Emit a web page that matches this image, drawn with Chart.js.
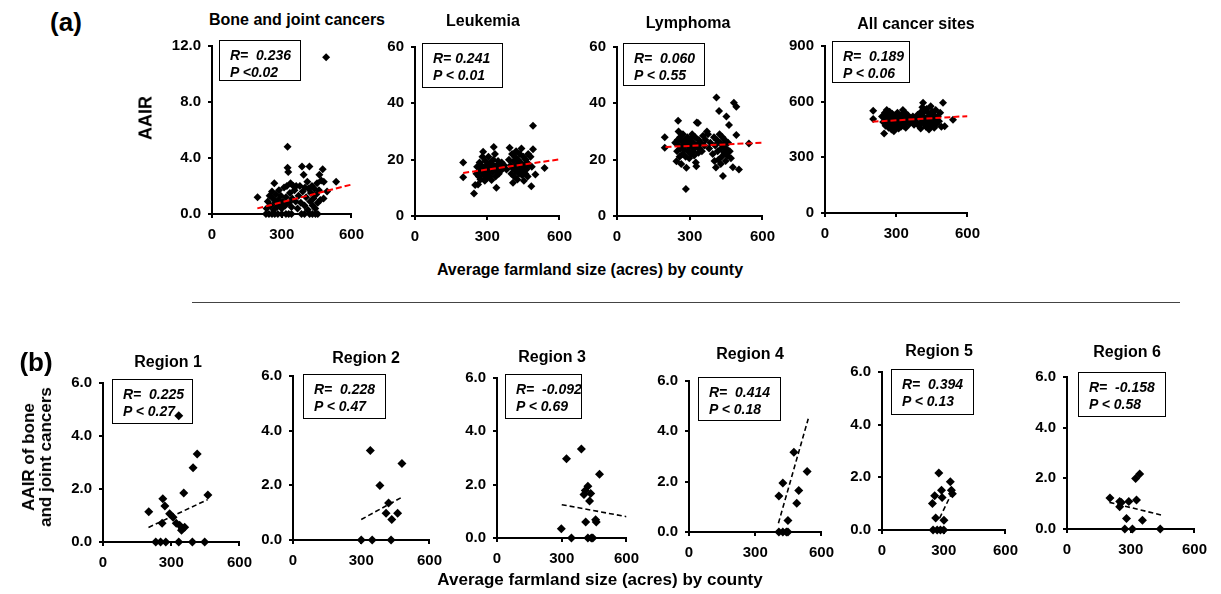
<!DOCTYPE html>
<html>
<head>
<meta charset="utf-8">
<script src="https://cdn.jsdelivr.net/npm/chart.js@4.4.1/dist/chart.umd.min.js"></script>
<style>
  body { margin: 0; background: #fff; }
  #fig { position: relative; width: 1221px; height: 594px; overflow: hidden;
         font-family: 'Liberation Sans', Arial, sans-serif; font-weight: bold; color: #000; }
  #fig canvas { position: absolute; }
  .lbl { position: absolute; transform: translate(-50%, -50%); white-space: nowrap; }
  .rot { transform: translate(-50%, -50%) rotate(-90deg); text-align: center; }
  .stat { position: absolute; border: 1px solid #000; box-sizing: border-box; font-style: italic;
          font-size: 14px; line-height: 17px; padding: 6px 0 0 10px; white-space: pre; z-index: 2; }
  .sep { position: absolute; height: 1px; background: #444; }
</style>
</head>
<body>
<div id="fig"></div>
<script>
// ---- data (x = average farmland size, y = AAIR) ----
const xTicks = [0, 300, 600];
const boneTicks = [0, 4, 8, 12];
const leukTicks = [0, 20, 40, 60];
const lymphTicks = [0, 20, 40, 60];
const allTicks = [0, 300, 600, 900];
const regionTicks = [0, 2, 4, 6];

const bonePoints = [
  [232,0],[245,0],[258,0],[270,0],[283,0],[300,0],[318,0],[330,0],[342,0],[385,0],[398,0],[420,0],[432,0],[445,0],[455,0],
  [196,1.2],[235,0.4],[240,0.9],[248,1.3],[252,0.6],[258,1.6],[262,1.1],[265,0.3],[268,2.2],[272,0.8],[275,1.4],[280,0.5],
  [285,1.0],[288,1.7],[292,0.7],[296,1.3],[300,0.4],[305,0.9],[310,1.9],[315,0.6],[318,1.2],[322,2.0],[325,3.3],[328,3.0],
  [325,4.8],[332,0.8],[335,1.5],[338,2.2],[342,0.5],[345,1.1],[350,2.0],[355,1.7],[360,0.9],[362,2.0],[368,0.4],[372,1.3],
  [378,2.0],[382,0.8],[387,3.4],[390,1.6],[394,2.8],[398,0.6],[400,1.9],[405,1.2],[410,2.3],[412,0.3],[415,1.8],[419,3.4],
  [422,0.9],[425,1.5],[430,2.0],[433,0.6],[436,1.1],[440,1.8],[444,0.4],[448,1.4],[452,2.2],[455,0.8],[460,1.7],[462,2.8],
  [466,1.0],[470,2.4],[476,3.2],[480,1.1],[481,2.3],[491,11.2],[495,1.6],[534,2.3]
];
const leukPoints = [
  [200,19],[200,13.8],[245,8],[250,11],[255,15],[258,17.5],[262,11.2],[265,14],[268,19],[270,16],[272,13],[275,18],
  [278,15.5],[280,21],[283,22.8],[285,14.5],[288,17],[290,12.5],[292,19.5],[295,16],[298,13.5],[300,18],[303,15],[305,21],
  [308,17],[310,14],[313,19],[315,16.5],[318,12.8],[320,18.5],[322,15.5],[325,20],[327,24.5],[330,17],[332,22],[335,14],
  [338,10],[340,18],[342,16],[345,19.5],[348,15],[350,17.5],[355,16],[360,19],[365,17],[370,18],[380,16.5],[390,20],
  [393,24.2],[398,18],[400,15],[403,22],[405,17],[407,11.8],[410,19.5],[412,14],[415,21],[418,16],[420,23],[422,18],
  [425,13],[428,20],[430,17],[432,15],[435,22],[438,19],[440,16],[442,24],[445,14.5],[448,18],[450,21],[452,12.5],
  [455,17],[458,15],[460,20],[462,16.5],[465,19],[468,14],[470,22],[475,18],[480,21],[483,10.6],[485,17.5],[490,23.7],
  [490,32],[500,14.7],[538,17]
];
const lymphPoints = [
  [197,28],[197,24.2],[240,26],[245,19.4],[248,23],[250,27],[252,33.8],[254,30],[256,25],[258,21],[260,28],[262,24],
  [265,18.5],[268,26.5],[270,22],[272,29],[275,25],[278,23.5],[280,27],[283,21],[284,9.6],[286,17.1],[288,25.5],[290,28],
  [292,23],[295,26],[298,20.5],[300,24.5],[303,27.5],[305,22],[308,25],[310,29],[313,23],[315,26],[318,21.5],[320,24],
  [323,28],[325,19],[327,17.7],[329,33.2],[332,25.5],[334,33],[336,22.5],[338,27],[340,24],[345,26],[350,23],[355,28.5],
  [360,25],[365,27],[371,30],[375,29],[380,24],[385,26],[395,22],[400,28],[402,19.5],[405,25],[408,17.2],[410,42.1],
  [412,27],[415,23],[418,20],[421,37.3],[423,29],[425,26],[428,18.5],[430,24],[432,21],[435,28],[437,14.2],[440,25.5],
  [442,22.5],[445,27],[448,19.5],[450,24],[451,35.3],[455,21.5],[458,26],[462,32.3],[465,23],[470,20.5],[478,17.3],
  [482,40.2],[492,38.8],[492,28.8],[503,16.5],[544,25.7]
];
const allPoints = [
  [203,551],[203,507],[240,520],[245,490],[249,428],[252,540],[255,470],[258,510],[260,555],[262,480],[265,530],[268,460],
  [270,500],[272,545],[275,485],[278,515],[280,450],[283,535],[285,470],[288,505],[290,440],[292,525],[295,490],[298,460],
  [300,510],[303,475],[305,540],[308,495],[310,455],[313,520],[315,480],[318,500],[320,465],[322,530],[325,490],[328,555],
  [330,470],[333,510],[335,485],[338,540],[340,460],[345,500],[350,525],[355,480],[360,510],[365,495],[370,520],[375,475],
  [380,505],[385,490],[390,530],[395,470],[400,515],[403,455],[405,545],[408,490],[410,570],[413,594],[415,520],[418,480],
  [420,550],[422,500],[425,465],[428,560],[430,510],[432,485],[435,540],[438,450],[440,525],[442,495],[445,575],[448,470],
  [450,515],[452,545],[455,490],[458,530],[460,460],[463,505],[466,555],[470,480],[475,520],[480,495],[485,540],[490,465],
  [497,594],[504,468],[539,503]
];
const region1Points = [[201,1.14],[333,4.76],[263,1.63],[272,1.36],[260,0.71],[293,1.07],[308,0.93],[322,0.71],[337,0.63],
  [349,0.5],[359,0.56],[345,0.44],[355,1.85],[396,2.8],[414,3.32],[461,1.77],[232,0],[253,0],[276,0],[333,0],[393,0],[447,0]];
const region2Points = [[340,3.27],[479,2.8],[382,1.99],[420,1.35],[409,0.98],[460,0.98],[434,0.75],[300,0],[348,0],[431,0]];
const region3Points = [[322,2.97],[391,3.34],[475,2.39],[421,1.94],[409,1.78],[403,1.63],[434,1.67],[429,1.39],[411,0.6],
  [457,0.68],[460,0.6],[298,0.35],[345,0],[421,0],[437,0],[444,0]];
const region4Points = [[475,3.17],[535,2.4],[425,1.95],[407,1.43],[497,1.65],[488,1.14],[448,0.46],[407,0],[425,0],[441,0],[448,0]];
const region5Points = [[276,2.16],[332,1.83],[289,1.51],[256,1.3],[245,1.01],[292,1.23],[337,1.51],[342,1.38],[261,0.46],
  [301,0.37],[248,0],[268,0],[284,0],[300,0]];
const region6Points = [[342,2.17],[323,1.99],[202,1.22],[248,1.09],[256,1.05],[291,1.09],[327,1.14],[248,0.88],[280,0.41],
  [355,0.35],[272,0],[308,0],[439,0]];

// fitted trend lines (start, end)
const boneTrend = [[195,0.4],[600,2.1]];
const leukTrend = [[200,15.3],[600,20.1]];
const lymphTrend = [[200,24.5],[600,26]];
const allTrend = [[200,492],[600,522]];
const region1Trend = [[200,0.55],[460,1.6]];
const region2Trend = [[300,0.75],[480,1.57]];
const region3Trend = [[300,1.25],[600,0.8]];
const region4Trend = [[405,0.35],[540,4.5]];
const region5Trend = [[280,0.45],[345,1.5]];
const region6Trend = [[200,1.05],[445,0.55]];

const boneStats = ['R=  0.236', 'P <0.02'];
const leukStats = ['R= 0.241', 'P < 0.01'];
const lymphStats = ['R=  0.060', 'P < 0.55'];
const allStats = ['R=  0.189', 'P < 0.06'];
const regionStats = [
  ['R=  0.225', 'P < 0.27'], ['R=  0.228', 'P < 0.47'], ['R=  -0.092', 'P < 0.69'],
  ['R=  0.414', 'P < 0.18'], ['R=  0.394', 'P < 0.13'], ['R=  -0.158', 'P < 0.58']
];

// ---- layout: plot area [left, top, right, bottom], stat box, title position ----
const panels = [
  { title: 'Bone and joint cancers', t: [297, 20], area: [212, 42, 352, 214], box: [219, 40, 301, 81],
    pts: bonePoints, trend: boneTrend, yT: boneTicks, stats: boneStats, dec: 1, red: true },
  { title: 'Leukemia', t: [483, 21], area: [415, 43, 560, 216], box: [422, 43, 503, 88],
    pts: leukPoints, trend: leukTrend, yT: leukTicks, stats: leukStats, dec: 0, red: true },
  { title: 'Lymphoma', t: [688, 23], area: [617, 43, 763, 216], box: [623, 43, 705, 86],
    pts: lymphPoints, trend: lymphTrend, yT: lymphTicks, stats: lymphStats, dec: 0, red: true },
  { title: 'All cancer sites', t: [916, 24], area: [825, 42, 968, 213], box: [832, 41, 910, 83],
    pts: allPoints, trend: allTrend, yT: allTicks, stats: allStats, dec: 0, red: true },
  { title: 'Region 1', t: [168, 362], area: [103, 379, 240, 542], box: [112, 379, 193, 424],
    pts: region1Points, trend: region1Trend, yT: regionTicks, stats: regionStats[0], dec: 1 },
  { title: 'Region 2', t: [366, 358], area: [293, 372, 430, 540], box: [303, 374, 386, 419],
    pts: region2Points, trend: region2Trend, yT: regionTicks, stats: regionStats[1], dec: 1 },
  { title: 'Region 3', t: [552, 357], area: [497, 374, 627, 538], box: [505, 374, 582, 419],
    pts: region3Points, trend: region3Trend, yT: regionTicks, stats: regionStats[2], dec: 1 },
  { title: 'Region 4', t: [750, 354], area: [689, 377, 822, 532], box: [698, 377, 781, 421],
    pts: region4Points, trend: region4Trend, yT: regionTicks, stats: regionStats[3], dec: 1 },
  { title: 'Region 5', t: [939, 351], area: [882, 368, 1006, 530], box: [891, 369, 974, 415],
    pts: region5Points, trend: region5Trend, yT: regionTicks, stats: regionStats[4], dec: 1 },
  { title: 'Region 6', t: [1127, 352], area: [1067, 373, 1195, 529], box: [1078, 372, 1166, 417],
    pts: region6Points, trend: region6Trend, yT: regionTicks, stats: regionStats[5], dec: 1 }
];

const fig = document.getElementById('fig');
const FONT = "'Liberation Sans', Arial, sans-serif";

function label(text, x, y, size, extra) {
  const d = document.createElement('div');
  d.className = 'lbl' + (extra ? ' ' + extra : '');
  d.style.left = x + 'px';
  d.style.top = y + 'px';
  d.style.fontSize = size + 'px';
  d.innerHTML = text;
  fig.appendChild(d);
  return d;
}

const toXY = arr => arr.map(([x, y]) => ({ x, y }));

function makePanel(p) {
  const yW = 60, xH = 34, padT = 12, padR = 20;
  const [l, t, r, b] = p.area;
  const cv = document.createElement('canvas');
  cv.width = r - l + yW + padR;
  cv.height = b - t + padT + xH;
  cv.style.left = (l - yW) + 'px';
  cv.style.top = (t - padT) + 'px';
  fig.appendChild(cv);

  const tickFont = { family: FONT, size: 15, weight: 'bold' };
  const axisGrid = { display: true, drawOnChartArea: false, drawTicks: true, tickLength: 4, color: '#000', lineWidth: 2 };
  const axisBorder = { display: true, color: '#000', width: 2 };
  const yMax = p.yT[p.yT.length - 1];

  new Chart(cv, {
    type: 'scatter',
    data: {
      datasets: [
        { data: toXY(p.pts), pointStyle: 'rectRot', pointRadius: p.red ? 4 : 4.5,
          backgroundColor: '#000', borderColor: '#000', borderWidth: 0, clip: false, order: 1 },
        { type: 'line', data: toXY(p.trend), borderColor: p.red ? '#ff0000' : '#000',
          borderWidth: p.red ? 2 : 1.6, borderDash: p.red ? [6, 3] : [5, 3], pointRadius: 0, fill: false, order: 0 }
      ]
    },
    options: {
      responsive: false, animation: false, events: [],
      layout: { padding: { top: padT, right: padR, left: 0, bottom: 0 } },
      plugins: { legend: { display: false }, tooltip: { enabled: false } },
      scales: {
        x: {
          type: 'linear', min: 0, max: 600,
          afterBuildTicks: s => { s.ticks = xTicks.map(v => ({ value: v })); },
          afterFit: s => { s.height = xH; },
          ticks: { font: tickFont, color: '#000', padding: 8, maxRotation: 0, autoSkip: false },
          grid: axisGrid, border: axisBorder
        },
        y: {
          type: 'linear', min: 0, max: yMax,
          afterBuildTicks: s => { s.ticks = p.yT.map(v => ({ value: v })); },
          afterFit: s => { s.width = yW; },
          ticks: { font: tickFont, color: '#000', padding: 7, autoSkip: false,
                   callback: v => Number(v).toFixed(p.dec) },
          grid: axisGrid, border: axisBorder
        }
      }
    }
  });

  label(p.title, p.t[0], p.t[1], 16);
  const s = document.createElement('div');
  s.className = 'stat';
  s.style.left = p.box[0] + 'px';
  s.style.top = p.box[1] + 'px';
  s.style.width = (p.box[2] - p.box[0]) + 'px';
  s.style.height = (p.box[3] - p.box[1]) + 'px';
  s.textContent = p.stats.join('\n');
  fig.appendChild(s);
}

panels.forEach(makePanel);

// figure-level labels
label('(a)', 66, 22, 26);
label('(b)', 36, 362, 26);
label('AAIR', 146, 118, 18, 'rot');
label('Average farmland size (acres) by county', 590, 270, 16);
label('AAIR of bone<br>and joint cancers', 37, 457, 17, 'rot').style.lineHeight = '17px';
label('Average farmland size (acres) by county', 600, 580, 17);

const sep = document.createElement('div');
sep.className = 'sep';
sep.style.left = '192px';
sep.style.top = '302px';
sep.style.width = '988px';
fig.appendChild(sep);
</script>
</body>
</html>
